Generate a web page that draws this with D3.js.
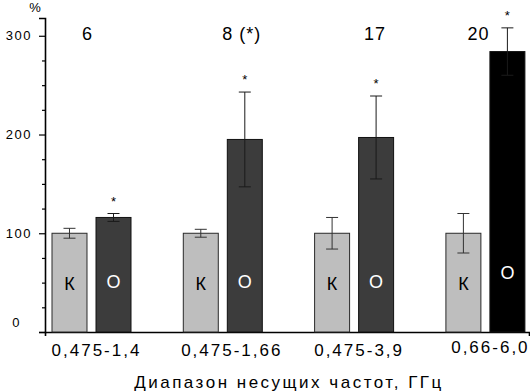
<!DOCTYPE html>
<html>
<head>
<meta charset="utf-8">
<script src="https://cdn.jsdelivr.net/npm/d3@7"></script>
<style>
  body { margin: 0; background: #fff; }
  text { font-family: "Liberation Sans", Arial, sans-serif; fill: #000; }
</style>
</head>
<body>
<div id="chart"></div>
<script>
// data
const groups = ["0,475-1,4", "0,475-1,66", "0,475-3,9", "0,66-6,0"];
const counts = ["6", "8 (*)", "17", "20"];
const controlMean = [100, 100, 100, 100];
const controlErr = [5, 4, 16, 20];
const exposedMean = [116, 195, 197, 284];
const exposedErr = [4, 48, 42, 24];
const exposedSig = [true, true, true, true];
const yTicks = [0, 25, 50, 75, 100, 125, 150, 175, 200, 225, 250, 275, 300];

// small per-group nudges of the texts, as in the original
const countShift = [-4, 19, 21, -7];
const labelShift = [5, 9, 5, 5];

const width = 530, height = 392;

const svg = d3.select("#chart")
  .append("svg")
  .attr("width", width)
  .attr("height", height);

// Y scale
const y = d3.scaleLinear()
  .domain([0, 318])
  .range([332, 18]);

// group scale and bar-in-group scale
const x0 = d3.scaleBand()
  .domain(groups)
  .range([52, 52 + 4 * 131.3]);
const x1 = d3.scaleBand()
  .domain(["K", "O"])
  .range([0, 79])
  .paddingInner(0.205);

// Y axis
const yAxis = svg.append("g")
  .attr("transform", "translate(45,0)")
  .call(d3.axisLeft(y)
    .tickValues(yTicks)
    .tickSizeOuter(0)
    .tickSize(6)
    .tickFormat(d => d % 100 === 0 ? d : ""));
yAxis.select(".domain").attr("stroke", "#000").attr("stroke-width", 1.6);
yAxis.selectAll(".tick line")
  .attr("stroke-width", 1.2)
  .attr("x2", d => d % 100 === 0 ? -6 : -3);
yAxis.selectAll(".tick text")
  .attr("x", -13)
  .style("font-size", "13px")
  .style("letter-spacing", "1.5px");
yAxis.selectAll(".tick").filter(d => d === 0).select("text")
  .attr("x", -24)
  .attr("dy", "-0.4em");

// "%" unit
svg.append("text")
  .attr("x", 35)
  .attr("y", 12)
  .attr("text-anchor", "middle")
  .style("font-size", "13px")
  .text("%");

// X axis line
const xLine = d3.scaleLinear().domain([0, 1]).range([45, 529]);
const xAxis = svg.append("g")
  .attr("transform", "translate(0,332)")
  .call(d3.axisBottom(xLine).tickValues([]).tickSizeOuter(4));
xAxis.select(".domain").attr("stroke", "#000").attr("stroke-width", 1.6);

// bars
const g = svg.selectAll(".grp")
  .data(groups)
  .enter().append("g")
  .attr("class", "grp")
  .attr("transform", d => `translate(${x0(d)},0)`);

// control bars
g.append("rect")
  .attr("x", x1("K"))
  .attr("y", (d, i) => y(controlMean[i]))
  .attr("width", x1.bandwidth())
  .attr("height", (d, i) => y(0) - y(controlMean[i]))
  .attr("fill", "#bebebe")
  .attr("stroke", "#2a2a2a")
  .attr("stroke-width", 1);

// exposed bars
g.append("rect")
  .attr("x", x1("O"))
  .attr("y", (d, i) => y(exposedMean[i]))
  .attr("width", x1.bandwidth())
  .attr("height", (d, i) => y(0) - y(exposedMean[i]))
  .attr("fill", (d, i) => i === 3 ? "#000" : "#3c3c3c")
  .attr("stroke", "#111")
  .attr("stroke-width", 1);

// error bars
function errorBar(sel, key, mean, err, color) {
  const cx = x1(key) + x1.bandwidth() / 2;
  sel.append("line")
    .attr("x1", cx).attr("x2", cx)
    .attr("y1", (d, i) => y(mean[i] + err[i]))
    .attr("y2", (d, i) => y(mean[i] - err[i]))
    .attr("stroke", color).attr("stroke-width", 1);
  [1, -1].forEach(s => {
    sel.append("line")
      .attr("x1", cx - 6).attr("x2", cx + 6)
      .attr("y1", (d, i) => y(mean[i] + s * err[i]))
      .attr("y2", (d, i) => y(mean[i] + s * err[i]))
      .attr("stroke", color).attr("stroke-width", 1);
  });
}
errorBar(g, "K", controlMean, controlErr, "#333");
errorBar(g, "O", exposedMean, exposedErr, "#1a1a1a");

// significance stars
g.filter((d, i) => exposedSig[i])
  .append("text")
  .attr("x", x1("O") + x1.bandwidth() / 2)
  .attr("y", d => {
    const i = groups.indexOf(d);
    return y(exposedMean[i] + exposedErr[i]) - 8;
  })
  .attr("text-anchor", "middle")
  .style("font-size", "13px")
  .text("*");

// letters in bars
g.append("text")
  .attr("x", x1("K") + x1.bandwidth() / 2)
  .attr("y", 290)
  .attr("text-anchor", "middle")
  .style("font-size", "18px")
  .text("К");
g.append("text")
  .attr("x", x1("O") + x1.bandwidth() / 2)
  .attr("y", (d, i) => i === 3 ? 279 : 288)
  .attr("text-anchor", "middle")
  .style("font-size", "18px")
  .style("fill", "#fff")
  .text("О");

// counts above groups
g.append("text")
  .attr("x", (d, i) => x1.range()[1] / 2 + countShift[i])
  .attr("y", 40)
  .attr("text-anchor", "middle")
  .style("font-size", "18px")
  .style("letter-spacing", "1px")
  .text((d, i) => counts[i]);

// group labels
g.append("text")
  .attr("x", (d, i) => x1.range()[1] / 2 + labelShift[i])
  .attr("y", (d, i) => i === 3 ? 353 : 356)
  .attr("text-anchor", "middle")
  .style("font-size", "17px")
  .style("letter-spacing", "2px")
  .text(d => d);

// axis title
svg.append("text")
  .attr("x", 289)
  .attr("y", 388)
  .attr("text-anchor", "middle")
  .style("font-size", "17px")
  .style("letter-spacing", "2.5px")
  .text("Диапазон несущих частот, ГГц");
</script>
</body>
</html>
